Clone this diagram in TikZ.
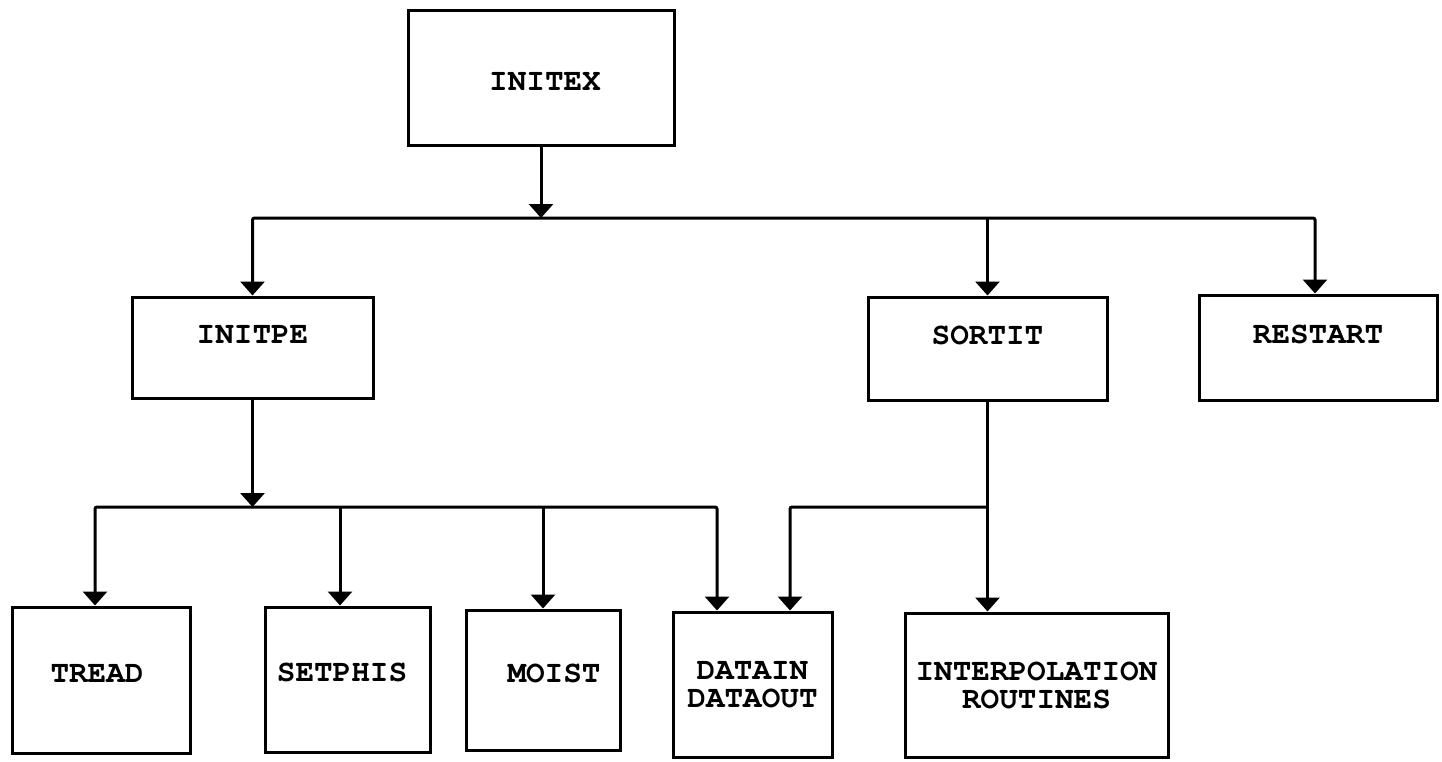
\documentclass[tikz,border=0pt]{standalone}
\usepackage{fontspec}
\newfontfamily\tw{TeX Gyre Cursor}
\usetikzlibrary{arrows.meta}
\begin{document}
\begin{tikzpicture}[x=1pt,y=-1pt,
  box/.style={draw, line width=3pt, rectangle, inner sep=0pt,
    font=\tw\bfseries\fontsize{31pt}{28pt}\selectfont},
  conn/.style={line width=3pt, rounded corners=2pt},
  arr/.style={-{Triangle[width=24pt,length=14pt]}},
  arrs/.style={{Triangle[width=24pt,length=14pt]}-{Triangle[width=24pt,length=14pt]}}]
\fill[white] (0,0) rectangle (1442,761);
\useasboundingbox (0,0) rectangle (1442,761);

% boxes
\node[box, minimum width=266pt, minimum height=135pt, text height=26pt] (initex) at (541,77.5) {\kern8pt INITEX};
\node[box, minimum width=241pt, minimum height=101pt, text depth=26pt] (initpe) at (252.5,347.5) {INITPE};
\node[box, minimum width=239pt, minimum height=103pt, text depth=26pt] (sortit) at (987.5,348.5) {SORTIT};
\node[box, minimum width=238pt, minimum height=105pt, text depth=26pt] (restart) at (1318,347.5) {RESTART};
\node[box, minimum width=178pt, minimum height=146pt, text depth=14pt] (tread) at (101,680) {TREAD\kern8pt};
\node[box, minimum width=165pt, minimum height=145pt, text depth=14pt] (setphis) at (347.5,679.5) {SETPHIS\kern11pt};
\node[box, minimum width=154pt, minimum height=140pt, text depth=14pt] (moist) at (543,680) {\kern22pt MOIST};
\node[box, align=center, minimum width=159pt, minimum height=145pt] (datain) at (752.5,684.5) {DATAIN\\DATAOUT};
\node[box, align=center, minimum width=263pt, minimum height=144pt] (interp) at (1036.5,685) {INTERPOLATION\\ROUTINES};

% helper coordinates
\coordinate (topbus) at (541,218);
\coordinate (lowbus) at (250,507);
\coordinate (tA) at (95,0);
\coordinate (sA) at (340,0);
\coordinate (dA) at (717,0);
\coordinate (dB) at (790,0);
\coordinate (rA) at (1315,0);

% connectors
\draw[conn,arr] (initex.south) -- (initex.south |- topbus);
\draw[conn,arrs] (initpe.north) |- (sortit.north |- topbus) -| (rA |- restart.north);
\draw[conn,arr] (sortit.north |- topbus) -- (sortit.north);
\draw[conn,arr] (initpe.south) -- (initpe.south |- lowbus);
\draw[conn,arrs] (tA |- tread.north) |- (dA |- lowbus) -- (dA |- datain.north);
\draw[conn,arr] (sA |- lowbus) -- (sA |- setphis.north);
\draw[conn,arr] (moist.north |- lowbus) -- (moist.north);
\draw[conn,arr] (sortit.south) -- (sortit.south |- interp.north);
\draw[conn,arr] (sortit.south |- lowbus) -| (dB |- datain.north);
\end{tikzpicture}
\end{document}
